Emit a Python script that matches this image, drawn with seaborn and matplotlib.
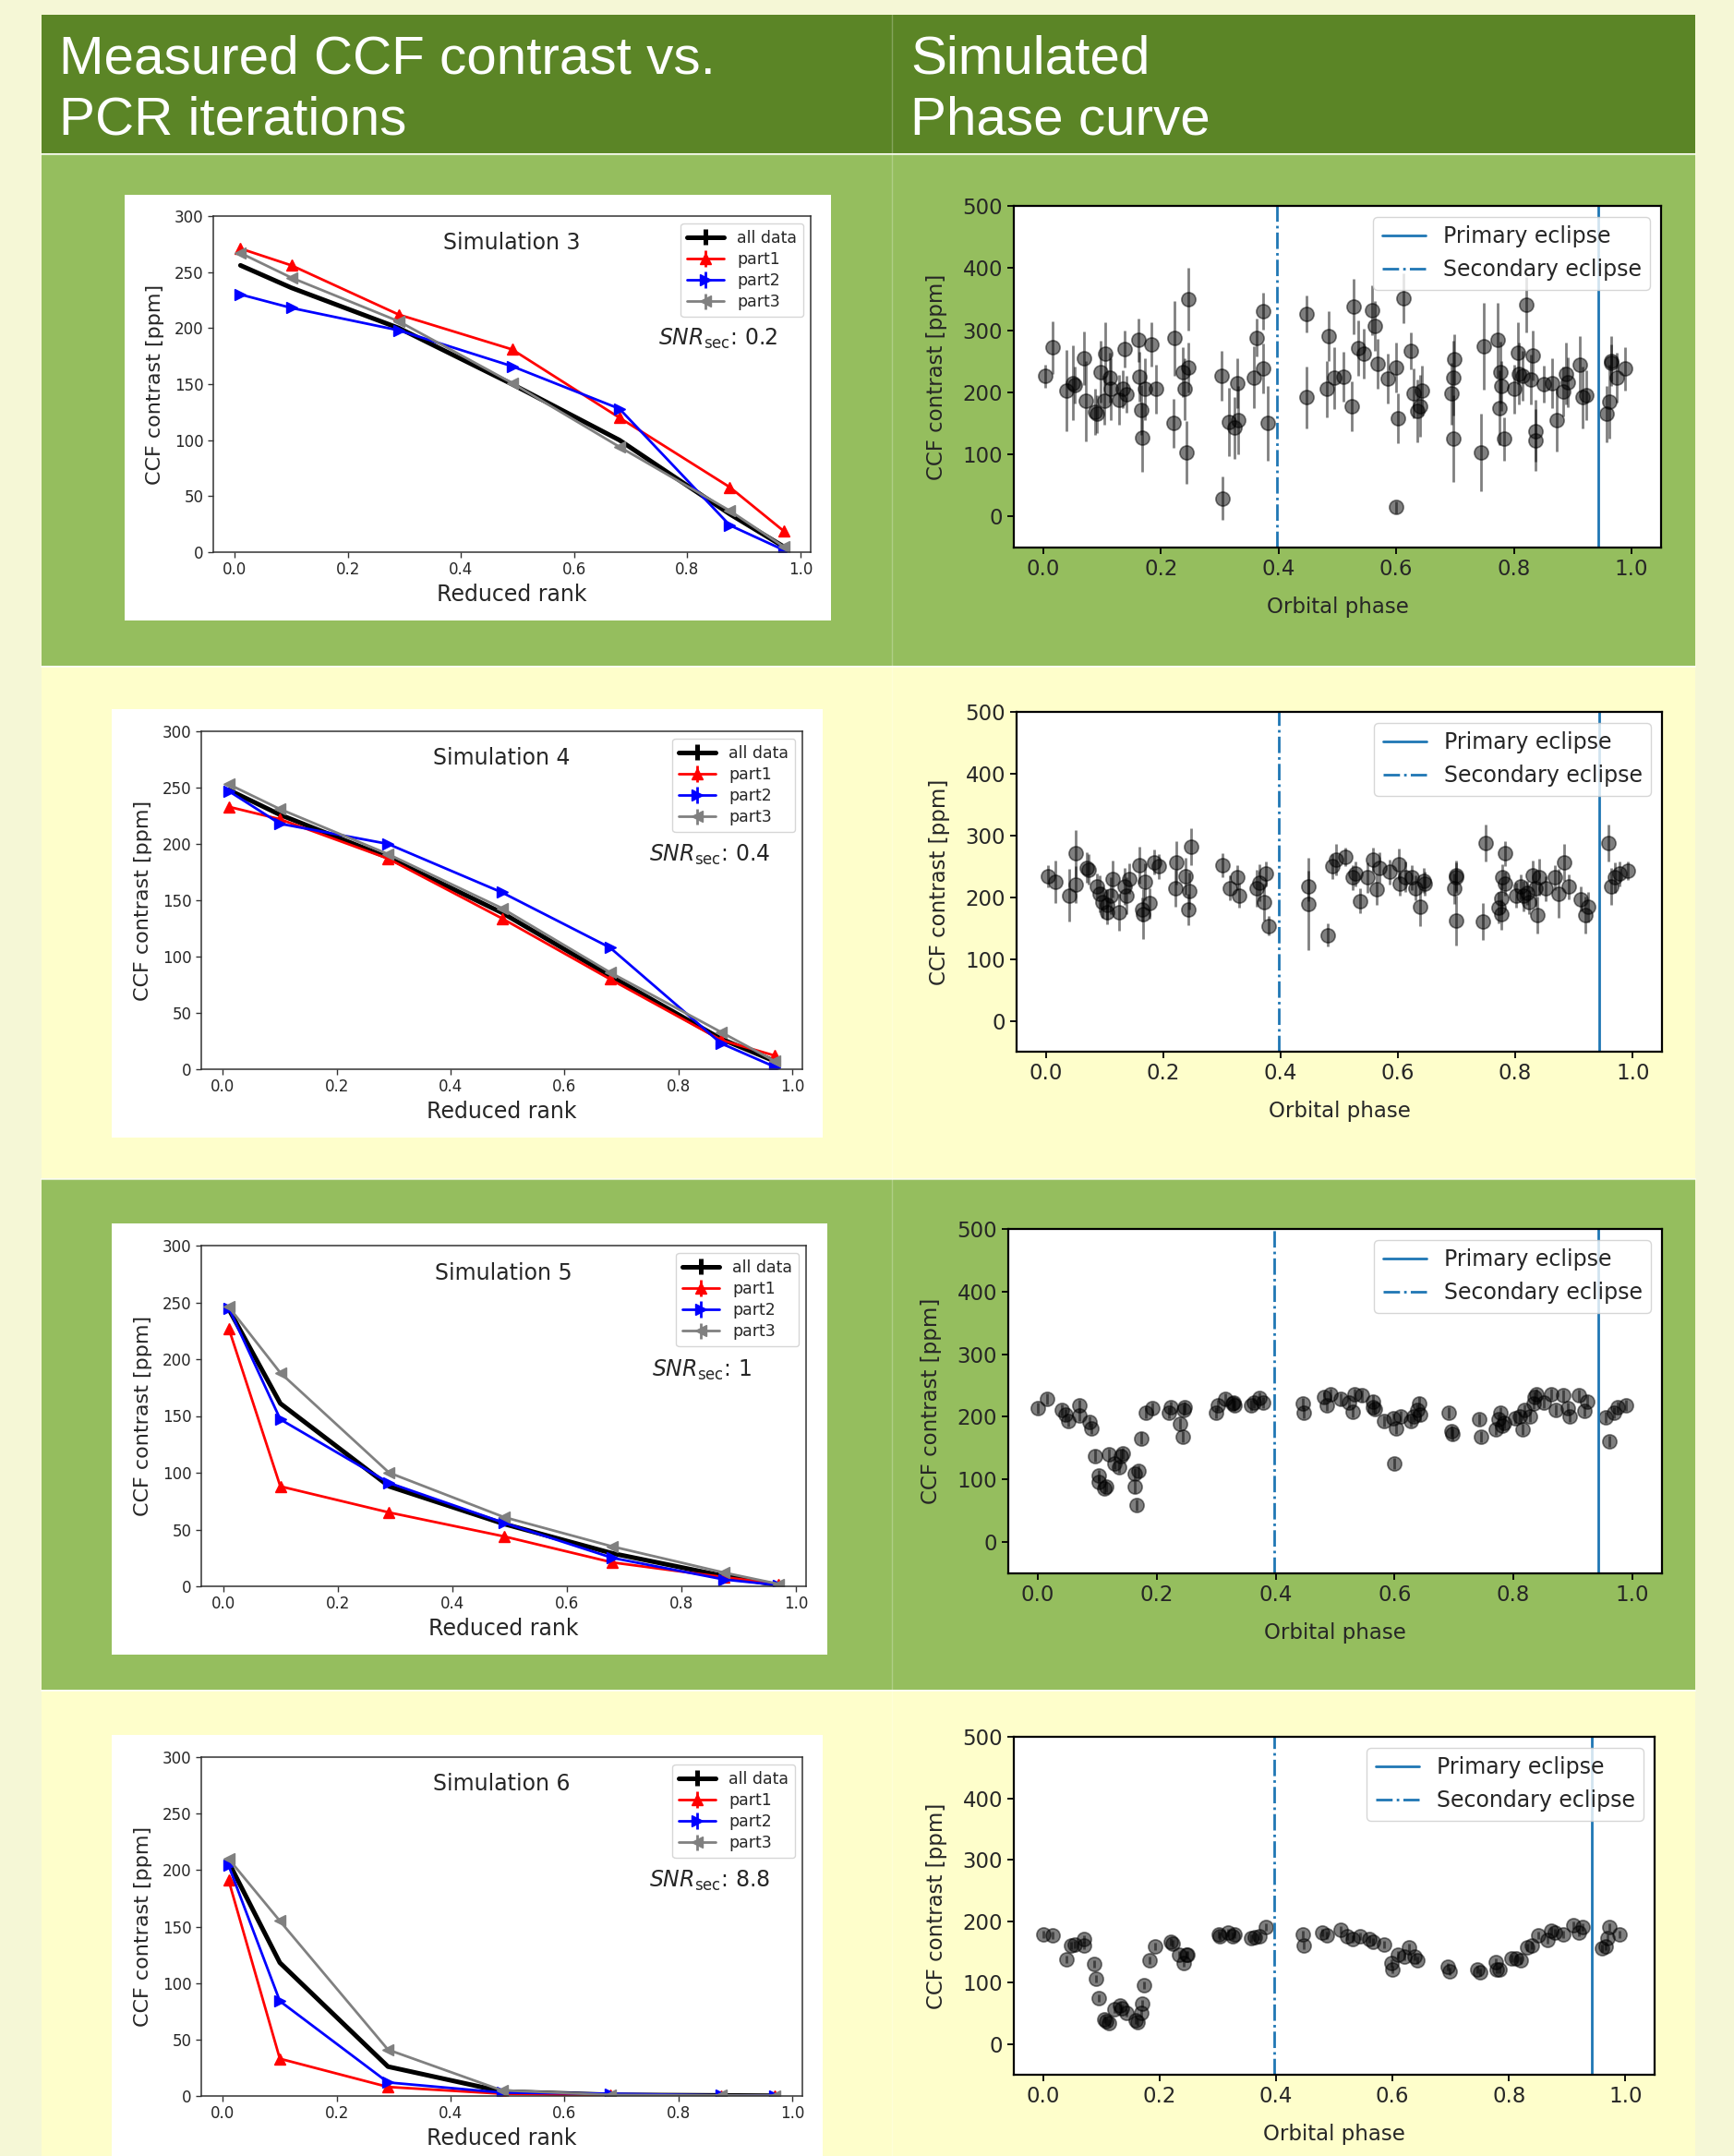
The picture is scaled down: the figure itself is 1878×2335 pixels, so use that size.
import matplotlib
matplotlib.use("Agg")
import matplotlib.pyplot as plt
import seaborn as sns
from matplotlib.patches import Rectangle
from matplotlib.lines import Line2D

# ---------------- data ----------------
rank = [0.01, 0.1, 0.29, 0.49, 0.68, 0.875, 0.97]
rank_err = [0, 0, 0, 0, 0, 0, 0]

sim3_all = [256, 236, 200, 150, 100, 34, 5]
sim3_part1 = [271, 256, 212, 181, 120, 58, 19]
sim3_part2 = [230, 218, 198, 166, 128, 24, 2]
sim3_part3 = [267, 245, 206, 151, 94, 37, 5]

sim4_all = [248, 226, 188, 139, 83, 27, 7]
sim4_part1 = [233, 222, 187, 134, 80, 26, 12]
sim4_part2 = [247, 218, 200, 157, 108, 23, 2]
sim4_part3 = [253, 231, 191, 143, 86, 33, 7]

sim5_all = [244, 161, 88, 55, 29, 9, 1]
sim5_part1 = [227, 88, 65, 44, 21, 8, 2]
sim5_part2 = [245, 147, 91, 56, 25, 6, 1]
sim5_part3 = [246, 188, 100, 61, 35, 12, 2]

sim6_all = [207, 118, 26, 4, 1, 0.5, 0.2]
sim6_part1 = [191, 33, 8, 2, 0.5, 0.2, 0.1]
sim6_part2 = [204, 84, 12, 3, 2, 0.5, 0.3]
sim6_part3 = [210, 155, 41, 5, 1, 0.5, 0.3]

sim_titles = ["Simulation 3", "Simulation 4", "Simulation 5", "Simulation 6"]
snr_values = ["0.2", "0.4", "1", "8.8"]
series_labels = ["all data", "part1", "part2", "part3"]

primary_eclipse = 0.943
secondary_eclipse = 0.397

sim3_phase = [0.003, 0.016, 0.040, 0.050, 0.053, 0.069, 0.072, 0.088, 0.091, 0.098,
              0.104, 0.106, 0.113, 0.115, 0.129, 0.135, 0.138, 0.141, 0.162, 0.163,
              0.166, 0.168, 0.173, 0.184, 0.192, 0.221, 0.223, 0.237, 0.241, 0.244,
              0.247, 0.247, 0.303, 0.304, 0.316, 0.325, 0.329, 0.331, 0.358, 0.362,
              0.373, 0.373, 0.382, 0.447, 0.448, 0.482, 0.485, 0.494, 0.510, 0.525,
              0.528, 0.535, 0.545, 0.559, 0.563, 0.568, 0.585, 0.600, 0.600, 0.603,
              0.612, 0.625, 0.629, 0.636, 0.641, 0.643, 0.694, 0.697, 0.698, 0.697,
              0.744, 0.748, 0.773, 0.775, 0.777, 0.779, 0.784, 0.801, 0.806, 0.808,
              0.814, 0.821, 0.828, 0.832, 0.837, 0.837, 0.850, 0.865, 0.872, 0.883,
              0.888, 0.892, 0.912, 0.916, 0.923, 0.958, 0.962, 0.965, 0.966, 0.974,
              0.989]
sim3_ccf = [226, 272, 203, 215, 212, 255, 186, 168, 165, 233,
            187, 262, 223, 205, 188, 205, 270, 197, 284, 225,
            172, 127, 205, 277, 205, 150, 287, 232, 205, 103,
            240, 350, 226, 29, 152, 143, 214, 155, 224, 288,
            238, 331, 150, 326, 192, 205, 290, 223, 225, 178,
            338, 271, 262, 332, 307, 246, 222, 240, 15, 158,
            351, 267, 198, 170, 178, 203, 198, 223, 253, 125,
            103, 274, 284, 175, 232, 210, 125, 205, 263, 230,
            227, 341, 220, 259, 138, 123, 213, 215, 155, 201,
            230, 216, 245, 192, 195, 165, 185, 250, 247, 223,
            238]
sim3_err = [19, 42, 65, 60, 30, 43, 65, 37, 30, 50,
            40, 50, 40, 50, 40, 30, 30, 30, 35, 40,
            40, 55, 50, 35, 40, 40, 60, 40, 50, 50,
            40, 50, 40, 35, 55, 50, 40, 55, 50, 30,
            40, 30, 60, 30, 50, 45, 40, 50, 40, 40,
            45, 45, 40, 40, 40, 40, 40, 40, 10, 40,
            40, 30, 40, 50, 50, 40, 50, 60, 40, 70,
            62, 70, 60, 60, 50, 40, 35, 40, 50, 50,
            40, 45, 40, 40, 50, 50, 30, 40, 50, 40,
            50, 40, 45, 50, 40, 45, 60, 40, 30, 40,
            35]

sim4_phase = [0.003, 0.016, 0.040, 0.051, 0.051, 0.069, 0.072, 0.087, 0.091, 0.096,
              0.105, 0.105, 0.113, 0.110, 0.125, 0.134, 0.137, 0.142, 0.160, 0.164,
              0.166, 0.169, 0.176, 0.184, 0.193, 0.222, 0.221, 0.238, 0.242, 0.245,
              0.248, 0.301, 0.313, 0.326, 0.330, 0.359, 0.364, 0.375, 0.372, 0.380,
              0.448, 0.448, 0.481, 0.488, 0.495, 0.511, 0.523, 0.528, 0.535, 0.548,
              0.558, 0.563, 0.568, 0.586, 0.601, 0.603, 0.613, 0.623, 0.630, 0.637,
              0.644, 0.645, 0.696, 0.699, 0.699, 0.699, 0.745, 0.749, 0.772, 0.776,
              0.776, 0.778, 0.783, 0.783, 0.802, 0.809, 0.814, 0.820, 0.824, 0.829,
              0.834, 0.838, 0.840, 0.852, 0.867, 0.874, 0.883, 0.891, 0.911, 0.920,
              0.924, 0.958, 0.963, 0.969, 0.978, 0.991]
sim4_ccf = [234, 225, 203, 271, 220, 248, 245, 218, 205, 192,
            176, 188, 230, 203, 176, 217, 202, 230, 252, 180,
            173, 225, 190, 257, 250, 256, 214, 234, 180, 210,
            282, 252, 215, 232, 203, 214, 223, 238, 192, 154,
            218, 189, 139, 250, 261, 265, 232, 238, 194, 232,
            261, 213, 248, 241, 254, 222, 233, 232, 215, 184,
            227, 222, 214, 235, 232, 162, 161, 288, 183, 198,
            172, 233, 222, 271, 203, 217, 202, 207, 192, 235,
            214, 171, 232, 214, 232, 206, 256, 217, 197, 171,
            184, 288, 218, 232, 238, 243]
sim4_err = [18, 35, 43, 38, 30, 25, 25, 20, 30, 25,
            20, 25, 30, 30, 30, 30, 30, 25, 30, 20,
            40, 30, 25, 20, 20, 35, 30, 30, 25, 30,
            30, 20, 20, 20, 20, 30, 30, 20, 30, 15,
            25, 75, 18, 20, 25, 15, 20, 20, 20, 25,
            20, 25, 25, 20, 25, 20, 25, 20, 20, 30,
            20, 20, 25, 25, 25, 40, 30, 30, 25, 25,
            25, 20, 20, 20, 20, 20, 25, 20, 20, 25,
            30, 30, 30, 20, 20, 40, 30, 20, 20, 30,
            25, 30, 30, 25, 20, 15]

sim5_phase = [0.000, 0.016, 0.040, 0.046, 0.051, 0.070, 0.070, 0.087, 0.090, 0.096,
              0.103, 0.103, 0.112, 0.114, 0.120, 0.129, 0.136, 0.140, 0.142, 0.163,
              0.163, 0.166, 0.169, 0.173, 0.182, 0.192, 0.221, 0.223, 0.239, 0.243,
              0.245, 0.247, 0.300, 0.302, 0.315, 0.327, 0.329, 0.331, 0.359, 0.364,
              0.373, 0.379, 0.446, 0.447, 0.481, 0.486, 0.493, 0.510, 0.523, 0.530,
              0.533, 0.545, 0.563, 0.564, 0.567, 0.583, 0.598, 0.600, 0.602, 0.611,
              0.628, 0.632, 0.639, 0.641, 0.643, 0.691, 0.696, 0.698, 0.742, 0.746,
              0.771, 0.775, 0.778, 0.781, 0.784, 0.803, 0.810, 0.816, 0.819, 0.828,
              0.834, 0.836, 0.838, 0.851, 0.864, 0.871, 0.884, 0.891, 0.895, 0.910,
              0.919, 0.924, 0.956, 0.962, 0.969, 0.976, 0.989]
sim5_ccf = [214, 229, 211, 203, 193, 218, 202, 192, 182, 138,
            106, 96, 86, 89, 140, 126, 120, 138, 142, 109,
            88, 59, 113, 166, 206, 214, 206, 215, 189, 168,
            211, 215, 207, 218, 228, 221, 223, 218, 218, 223,
            230, 223, 221, 207, 231, 218, 236, 228, 223, 208,
            236, 234, 225, 215, 212, 193, 198, 126, 182, 201,
            193, 201, 211, 222, 203, 206, 177, 172, 196, 168,
            180, 196, 206, 186, 191, 198, 201, 180, 211, 201,
            222, 231, 236, 223, 236, 211, 234, 214, 201, 234,
            209, 225, 199, 161, 206, 216, 218]
sim5_err = 9

sim6_phase = [0.000, 0.016, 0.040, 0.049, 0.054, 0.070, 0.070, 0.088, 0.091, 0.096,
              0.105, 0.109, 0.114, 0.123, 0.132, 0.136, 0.143, 0.159, 0.163, 0.168,
              0.170, 0.174, 0.183, 0.192, 0.219, 0.223, 0.234, 0.241, 0.246, 0.248,
              0.302, 0.304, 0.317, 0.326, 0.329, 0.357, 0.364, 0.371, 0.382, 0.446,
              0.448, 0.480, 0.487, 0.511, 0.522, 0.531, 0.545, 0.561, 0.567, 0.585,
              0.598, 0.600, 0.609, 0.621, 0.629, 0.638, 0.643, 0.695, 0.698, 0.746,
              0.750, 0.777, 0.779, 0.784, 0.804, 0.813, 0.820, 0.832, 0.839, 0.850,
              0.866, 0.873, 0.879, 0.893, 0.911, 0.920, 0.926, 0.960, 0.966, 0.969,
              0.973, 0.989]
sim6_ccf = [178, 177, 138, 161, 162, 171, 161, 130, 107, 75,
            40, 37, 34, 56, 62, 58, 51, 39, 36, 50,
            65, 96, 136, 159, 166, 164, 146, 132, 146, 145,
            179, 175, 182, 175, 179, 172, 174, 176, 190, 179,
            161, 182, 177, 186, 175, 171, 176, 171, 167, 162,
            132, 122, 146, 143, 157, 142, 137, 126, 118, 121,
            117, 133, 122, 121, 140, 140, 137, 158, 161, 177,
            169, 185, 182, 179, 193, 182, 190, 156, 159, 173,
            190, 178]
sim6_err = 6

# ---------------- figure / layout ----------------
W, H = 1878, 2335
sns.set_style("ticks")
plt.rcParams["font.family"] = ["DejaVu Sans"]
plt.rcParams["mathtext.fontset"] = "dejavusans"

fig = plt.figure(figsize=(W / 100, H / 100), dpi=100, facecolor="#f5f7d6")

OUTER_L, OUTER_R = 45, 1836
COL_X = 966
rows_px = [(16, 166, "#5b8526"), (167, 721, "#95be5e"), (722, 1276, "#fefecb"),
           (1277, 1830, "#95be5e"), (1831, 2335, "#fefecb")]


def frect(l, t, r, b, color, z=-10, **kw):
    fig.add_artist(Rectangle((l / W, 1 - b / H), (r - l) / W, (b - t) / H,
                             transform=fig.transFigure, facecolor=color,
                             edgecolor="none", zorder=z, **kw))


for (t, b, c) in rows_px:
    frect(OUTER_L, t, OUTER_R, b, c)
# cell borders
for y in [166.5, 721.5, 1276.5, 1830.5]:
    fig.add_artist(Line2D([OUTER_L / W, OUTER_R / W], [1 - y / H, 1 - y / H],
                          transform=fig.transFigure, color="white", alpha=0.7,
                          lw=1.5, zorder=-9))
fig.add_artist(Line2D([COL_X / W, COL_X / W], [1 - 16 / H, 0],
                      transform=fig.transFigure, color="white", alpha=0.25,
                      lw=1.0, zorder=-9))

# header text
hdr = dict(color="white", fontsize=42, family=["Liberation Sans", "DejaVu Sans"],
           va="baseline", ha="left")
fig.text(64 / W, 1 - 79 / H, "Measured CCF contrast vs.", **hdr)
fig.text(64 / W, 1 - 145 / H, "PCR iterations", **hdr)
fig.text(986 / W, 1 - 79 / H, "Simulated", **hdr)
fig.text(986 / W, 1 - 145 / H, "Phase curve", **hdr)

# white boxes behind left panels
white_boxes = [(135, 211, 900, 672), (121, 768, 891, 1232),
               (121, 1325, 896, 1792), (121, 1879, 891, 2335)]
for (l, t, r, b) in white_boxes:
    frect(l, t, r, b, "white", z=-8)

left_axes_px = [(231, 878, 234, 598), (218, 869, 792, 1158),
                (218, 873, 1349, 1718), (218, 869, 1903, 2270)]
right_axes_px = [(1098, 1799, 223, 593), (1101, 1800, 771, 1139),
                 (1092, 1800, 1331, 1704), (1098, 1792, 1881, 2247)]


def add_axes_px(l, r, t, b):
    return fig.add_axes([l / W, 1 - b / H, (r - l) / W, (b - t) / H])


left_data = [
    (sim3_all, sim3_part1, sim3_part2, sim3_part3),
    (sim4_all, sim4_part1, sim4_part2, sim4_part3),
    (sim5_all, sim5_part1, sim5_part2, sim5_part3),
    (sim6_all, sim6_part1, sim6_part2, sim6_part3),
]
right_data = [
    (sim3_phase, sim3_ccf, sim3_err),
    (sim4_phase, sim4_ccf, sim4_err),
    (sim5_phase, sim5_ccf, sim5_err),
    (sim6_phase, sim6_ccf, sim6_err),
]

styles = [dict(color="black", marker="", lw=3.6, ms=0),
          dict(color="red", marker="^", lw=2.0, ms=8),
          dict(color="blue", marker=">", lw=2.0, ms=8),
          dict(color="gray", marker="<", lw=2.0, ms=8)]

for i in range(4):
    # ---- left panel ----
    l, r, t, b = left_axes_px[i]
    ax = add_axes_px(l, r, t, b)
    ax.set_facecolor("white")
    for vals, st, lab in zip(left_data[i], styles, series_labels):
        ax.errorbar(rank, vals, yerr=rank_err, color=st["color"], marker=st["marker"],
                    lw=st["lw"], ms=st["ms"], capsize=0, label=lab)
    ax.set_ylim(0, 300)
    ax.set_yticks([0, 50, 100, 150, 200, 250, 300])
    ax.set_xticks([0.0, 0.2, 0.4, 0.6, 0.8, 1.0])
    ax.tick_params(labelsize=12, length=4, width=1, color="#333333")
    for sp in ax.spines.values():
        sp.set_visible(True)
        sp.set_color("#333333")
        sp.set_linewidth(1.1)
    ax.set_xlabel("Reduced rank", fontsize=17)
    ax.set_ylabel("CCF contrast [ppm]", fontsize=16, labelpad=8)
    ax.text(0.5, 0.92, sim_titles[i], transform=ax.transAxes, ha="center",
            va="center", fontsize=17)
    ax.text(0.745, 0.635, r"$SNR_{\rm sec}$: " + snr_values[i],
            transform=ax.transAxes, ha="left", va="center", fontsize=17)
    ax.legend(loc="upper right", fontsize=12.5, handlelength=2.3,
              labelspacing=0.3, borderaxespad=0.45)

    # ---- right panel ----
    l, r, t, b = right_axes_px[i]
    ax2 = add_axes_px(l, r, t, b)
    ax2.set_facecolor("white")
    ph, cc, er = right_data[i]
    ax2.errorbar(ph, cc, yerr=er, fmt="none", ecolor="black", elinewidth=2.0,
                 alpha=0.5, capsize=0)
    sns.scatterplot(x=ph, y=cc, ax=ax2, color="black", alpha=0.5, s=120,
                    edgecolor="black", linewidth=1.2, legend=False)
    ax2.axvline(primary_eclipse, color="#1f77b4", lw=2.0, ls="-",
                label="Primary eclipse")
    ax2.axvline(secondary_eclipse, color="#1f77b4", lw=2.0, ls="-.",
                label="Secondary eclipse")
    ax2.set_xlim(-0.05, 1.05)
    ax2.set_ylim(-50, 500)
    ax2.set_yticks([0, 100, 200, 300, 400, 500])
    ax2.set_xticks([0.0, 0.2, 0.4, 0.6, 0.8, 1.0])
    ax2.tick_params(labelsize=16.5, length=5, width=1.3, color="black")
    for sp in ax2.spines.values():
        sp.set_visible(True)
        sp.set_color("black")
        sp.set_linewidth(1.6)
    ax2.set_xlabel("Orbital phase", fontsize=16.5, labelpad=13)
    ax2.set_ylabel("CCF contrast [ppm]", fontsize=16.5, labelpad=12)
    ax2.legend(loc="upper right", fontsize=17)

fig.savefig("out.png", dpi=100, facecolor=fig.get_facecolor())
